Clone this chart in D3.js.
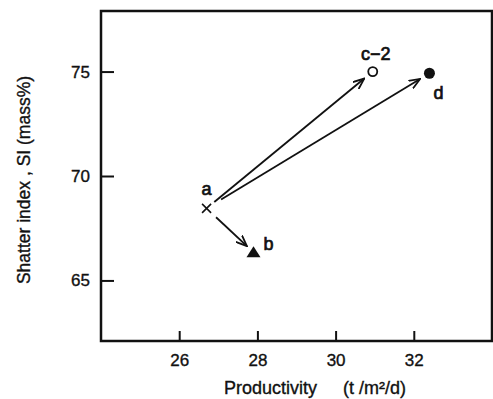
<!DOCTYPE html>
<html>
<head>
<meta charset="utf-8">
<script src="https://cdn.jsdelivr.net/npm/d3@7"></script>
<style>
  body { margin: 0; background: #fff; }
  text { font-family: "Liberation Sans", Arial, sans-serif; fill: #111; stroke: #111; stroke-width: 0.35; }
</style>
</head>
<body>
<script>
// points
const labels = ["a", "b", "c\u22122", "d"];
const productivity = [26.7, 27.9, 30.95, 32.4];
const shatterIndex = [68.45, 66.35, 75.0, 74.92];
const symbols = ["cross", "triangle", "open", "filled"];
// arrows: from -> to
const arrowFrom = ["a", "a", "a"];
const arrowTo = ["c\u22122", "d", "b"];
const xTicks = [26, 28, 30, 32];
const yTicks = [65, 70, 75];

const width = 493;
const height = 399;
const marginTop = 11;
const marginRight = 1;
const marginBottom = 58;
const marginLeft = 101;

const points = labels.map((l, i) => ({ label: l, x: productivity[i], y: shatterIndex[i], sym: symbols[i] }));
const byLabel = new Map(points.map(p => [p.label, p]));

const x = d3.scaleLinear()
  .domain([24, 34])
  .range([marginLeft, width - marginRight]);

const y = d3.scaleLinear()
  .domain([62.1, 77.9])
  .range([height - marginBottom, marginTop]);

const svg = d3.create("svg")
  .attr("width", width)
  .attr("height", height);

svg.append("defs").append("marker")
  .attr("id", "head")
  .attr("markerUnits", "userSpaceOnUse")
  .attr("viewBox", "0 0 12 10")
  .attr("refX", 11)
  .attr("refY", 5)
  .attr("markerWidth", 12)
  .attr("markerHeight", 10)
  .attr("orient", "auto")
  .append("path")
  .attr("d", "M0,0.5L11,5L0,9.5")
  .attr("fill", "none")
  .attr("stroke", "#111")
  .attr("stroke-width", 1.8);

// axes, ticks pointing inward
const xAxis = svg.append("g")
  .attr("transform", `translate(0,${height - marginBottom})`)
  .call(d3.axisBottom(x).tickValues(xTicks).tickSizeInner(-10).tickSizeOuter(0).tickPadding(13));
const yAxis = svg.append("g")
  .attr("transform", `translate(${marginLeft},0)`)
  .call(d3.axisLeft(y).tickValues(yTicks).tickSizeInner(-13).tickSizeOuter(0).tickPadding(11));

for (const g of [xAxis, yAxis]) {
  g.select(".domain").remove();
  g.selectAll(".tick line").attr("stroke", "#111").attr("stroke-width", 2);
  g.selectAll(".tick text").attr("font-size", 17).attr("fill", "#111")
    .style("font-family", "'Liberation Sans', Arial, sans-serif");
}

// frame
svg.append("rect")
  .attr("x", marginLeft)
  .attr("y", marginTop)
  .attr("width", width - marginLeft - marginRight)
  .attr("height", height - marginTop - marginBottom)
  .attr("fill", "none")
  .attr("stroke", "#111")
  .attr("stroke-width", 2.5);

// arrows
const gapStart = { "c\u22122": 10, "d": 17, "b": 13 };
const gapEnd = { "c\u22122": 11, "d": 11, "b": 9 };
svg.append("g")
  .selectAll("line")
  .data(arrowFrom.map((f, i) => ({ from: byLabel.get(f), to: byLabel.get(arrowTo[i]) })))
  .join("line")
  .each(function (d) {
    const x0 = x(d.from.x), y0 = y(d.from.y), x1 = x(d.to.x), y1 = y(d.to.y);
    const len = Math.hypot(x1 - x0, y1 - y0);
    const ux = (x1 - x0) / len, uy = (y1 - y0) / len;
    const s = gapStart[d.to.label], e = gapEnd[d.to.label];
    d3.select(this)
      .attr("x1", x0 + ux * s).attr("y1", y0 + uy * s)
      .attr("x2", x1 - ux * e).attr("y2", y1 - uy * e);
  })
  .attr("stroke", "#111")
  .attr("stroke-width", 1.8)
  .attr("marker-end", "url(#head)");

// symbols
const sym = svg.append("g");
for (const p of points) {
  const cx = x(p.x), cy = y(p.y);
  if (p.sym === "cross") {
    sym.append("path")
      .attr("d", `M${cx - 4.5},${cy - 4.5}L${cx + 4.5},${cy + 4.5}M${cx - 4.5},${cy + 4.5}L${cx + 4.5},${cy - 4.5}`)
      .attr("stroke", "#111").attr("stroke-width", 1.6);
  } else if (p.sym === "triangle") {
    sym.append("path")
      .attr("d", `M${cx - 7},${cy + 5}L${cx + 7},${cy + 5}L${cx},${cy - 6}Z`)
      .attr("fill", "#111");
  } else if (p.sym === "open") {
    sym.append("circle").attr("cx", cx).attr("cy", cy).attr("r", 4.5)
      .attr("fill", "#fff").attr("stroke", "#111").attr("stroke-width", 1.8);
  } else {
    sym.append("circle").attr("cx", cx).attr("cy", cy).attr("r", 5.5).attr("fill", "#111");
  }
}

// point labels
const labelOffset = { "a": [0, -13, "middle"], "b": [10, -2, "start"], "c\u22122": [3, -12, "middle"], "d": [4, 26, "start"] };
svg.append("g")
  .selectAll("text")
  .data(points)
  .join("text")
  .attr("x", d => x(d.x) + labelOffset[d.label][0])
  .attr("y", d => y(d.y) + labelOffset[d.label][1])
  .attr("text-anchor", d => labelOffset[d.label][2])
  .attr("font-size", 18)
  .style("stroke-width", 0.7)
  .text(d => d.label);

// axis titles
const xt = svg.append("text")
  .attr("y", 394)
  .attr("font-size", 18);
xt.append("tspan").attr("x", 224).text("Productivity");
xt.append("tspan").attr("x", 343).text("(t /m²/d)");

svg.append("text")
  .attr("transform", `translate(30,${(marginTop + height - marginBottom) / 2 + 4}) rotate(-90)`)
  .attr("text-anchor", "middle")
  .attr("font-size", 17.5)
  .text("Shatter index , SI (mass%)");

document.body.appendChild(svg.node());
</script>
</body>
</html>
